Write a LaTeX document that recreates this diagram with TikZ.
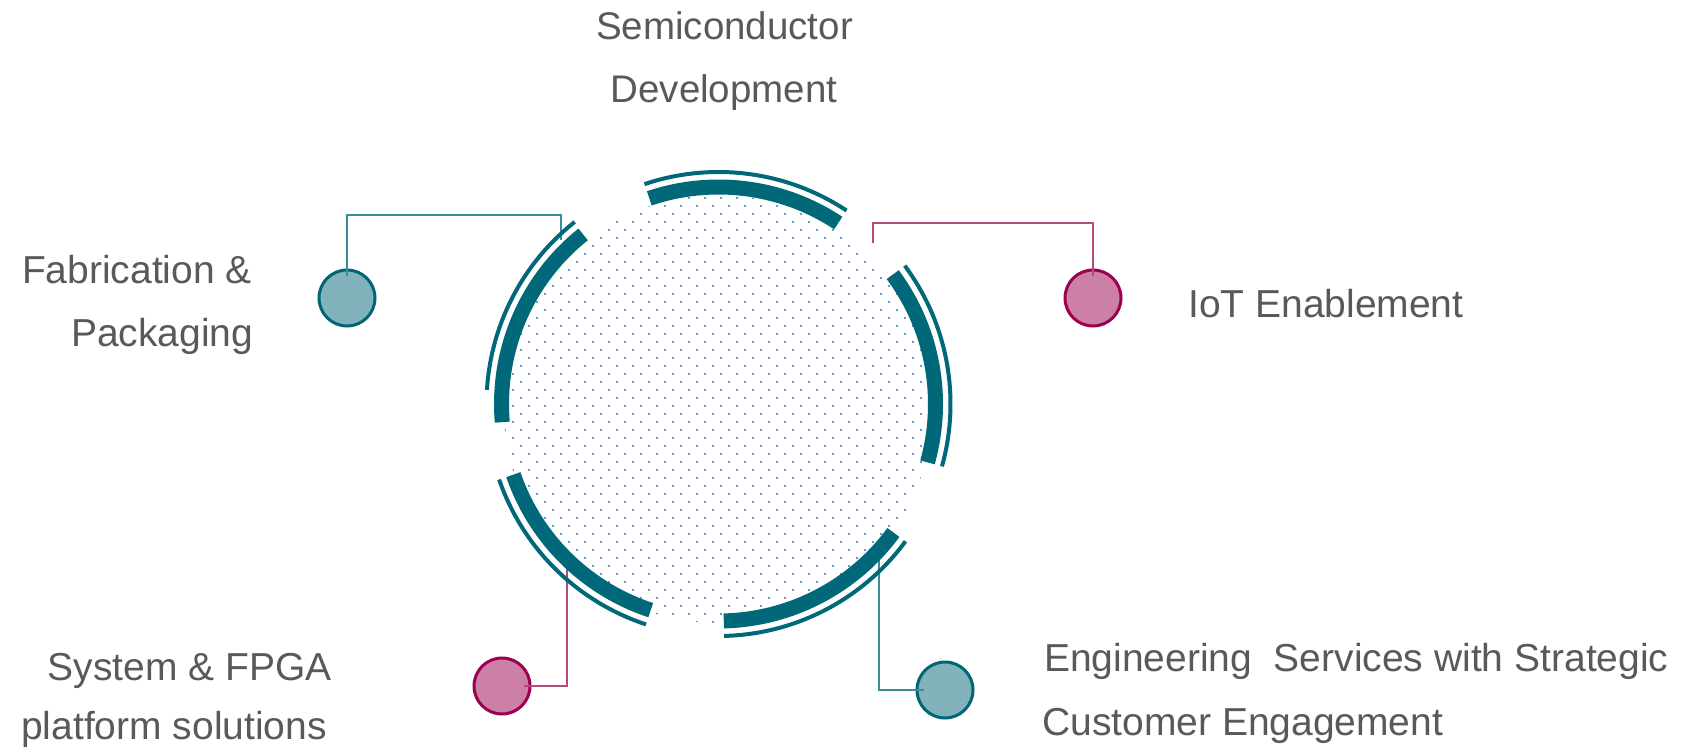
\documentclass[tikz,border=0pt]{standalone}
\usepackage{fontspec}
\setmainfont{Liberation Sans}
\usetikzlibrary{calc}
\definecolor{arcteal}{RGB}{0,104,120}
\definecolor{dotblue}{RGB}{91,155,213}
\definecolor{txtgray}{RGB}{89,89,89}
\definecolor{tealfill}{RGB}{130,179,188}
\definecolor{tealring}{RGB}{0,101,116}
\definecolor{tealline}{RGB}{60,140,153}
\definecolor{pinkfill}{RGB}{205,128,166}
\definecolor{pinkring}{RGB}{156,0,80}
\definecolor{pinkline}{RGB}{181,72,127}
\tikzset{
  thickarc/.style={draw=arcteal, line width=15pt, line cap=butt},
  thinarc/.style={draw=arcteal, line width=4pt, line cap=butt},
  tealdot/.style={circle, minimum size=56pt, inner sep=0pt, fill=tealfill, draw=tealring, line width=3pt},
  pinkdot/.style={circle, minimum size=56pt, inner sep=0pt, fill=pinkfill, draw=pinkring, line width=3pt},
  tealconn/.style={draw=tealline, line width=2pt},
  pinkconn/.style={draw=pinkline, line width=2pt},
  label/.style={inner sep=0pt, text=txtgray, font=\fontsize{39}{39}\selectfont},
  biglabel/.style={label, font=\fontsize{38.5}{38.5}\selectfont}
}
\begin{document}
\begin{tikzpicture}[x=1pt,y=1pt]
\useasboundingbox (0,0) rectangle (1685,748);
% dotted disc (staggered grid)
\begin{scope}
  \clip (718,339) circle (214);
  \foreach \j in {-22,-20,...,30}{
    \foreach \i in {-22,-20,...,30}{
      \fill[dotblue] (681+8*\i-0.9, 366.3-8*\j-0.9) rectangle ++(1.8,1.8);
    }
  }
  \foreach \j in {-23,-21,...,31}{
    \foreach \i in {-23,-21,...,31}{
      \fill[dotblue] (681+8*\i-0.9, 366.3-8*\j-0.9) rectangle ++(1.8,1.8);
    }
  }
\end{scope}
% circle markers
\node[tealdot] (fab) at (347,450) {};
\node[pinkdot] (iot) at (1093,450) {};
\node[pinkdot] (sys) at (502,62) {};
\node[tealdot] (eng) at (945,58) {};
% connector end points
\coordinate (fabA) at (347,533);
\coordinate (fabB) at (561,533);
\coordinate (fabC) at (561,508);
\coordinate (iotA) at (1093,525);
\coordinate (iotB) at (873,525);
\coordinate (iotC) at (873,505);
\coordinate (sysA) at (567,62);
\coordinate (sysB) at (567,185);
\coordinate (engA) at (879,58);
\coordinate (engB) at (879,193);
\draw[tealconn] ([yshift=-8pt]fab.north) -- (fabA) -- (fabB) -- (fabC);
\draw[pinkconn] ([yshift=-8pt]iot.north) -- (iotA) -- (iotB) -- (iotC);
\draw[pinkconn] ([xshift=-8pt]sys.east) -- (sysA) -- (sysB);
\draw[tealconn] ([xshift=8pt]eng.west) -- (engA) -- (engB);
% arcs
\coordinate (C) at (718.5,344);
\def\rk{217}
\def\rn{232}
% top
\draw[thickarc] ($(C)+(56.5:\rk)$) arc[start angle=56.5, end angle=108.6, radius=\rk];
\draw[thinarc]  ($(C)+(56.5:\rn)$) arc[start angle=56.5, end angle=108.6, radius=\rn];
% right
\draw[thickarc] ($(C)+(-15.6:\rk)$) arc[start angle=-15.6, end angle=36.6, radius=\rk];
\draw[thinarc]  ($(C)+(-15.6:\rn)$) arc[start angle=-15.6, end angle=36.6, radius=\rn];
% bottom right
\draw[thickarc] ($(C)+(-88.6:\rk)$) arc[start angle=-88.6, end angle=-36.3, radius=\rk];
\draw[thinarc]  ($(C)+(-88.6:\rn)$) arc[start angle=-88.6, end angle=-36.3, radius=\rn];
% bottom left
\draw[thickarc] ($(C)+(199:\rk)$) arc[start angle=199, end angle=251.8, radius=\rk];
\draw[thinarc]  ($(C)+(199:\rn)$) arc[start angle=199, end angle=251.8, radius=\rn];
% left
\draw[thickarc] ($(C)+(128.6:\rk)$) arc[start angle=128.6, end angle=184.8, radius=\rk];
\draw[thinarc]  ($(C)+(128.3:\rn)$) arc[start angle=128.3, end angle=176.5, radius=\rn];
% labels
\node[biglabel, anchor=base] (semi1) at (724.5,708.5) {Semiconductor};
\node[biglabel, anchor=base] (semi2) at (724,645.5) {Development};
\node[label, anchor=base east] (fab1) at (252,464) {Fabrication \&};
\node[label, anchor=base east] (fab2) at (253.5,401.5) {Packaging};
\node[label, anchor=base west] (iot1) at (1188,430.5) {IoT Enablement};
\node[label, anchor=base east] (sys1) at (332,67.5) {System \& FPGA};
\node[label, anchor=base east] (sys2) at (327,8.5) {platform solutions};
\node[label, anchor=base west] (eng1) at (1044,76.5) {Engineering~~Services with Strategic};
\node[label, anchor=base west] (eng2) at (1042,12.5) {Customer Engagement};
\end{tikzpicture}
\end{document}
